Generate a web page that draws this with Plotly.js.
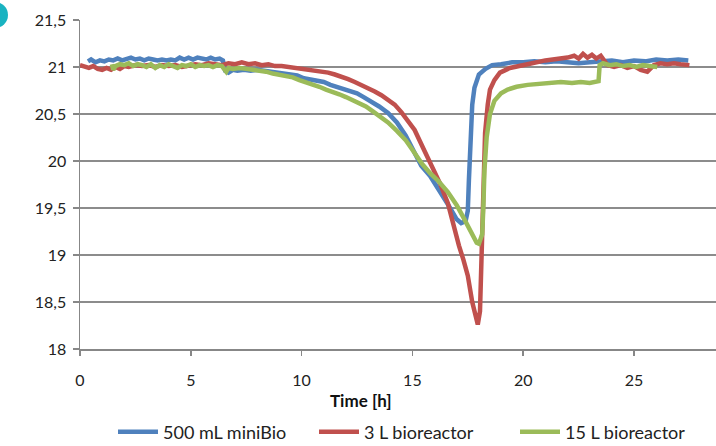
<!DOCTYPE html>
<html>
<head>
<meta charset="utf-8">
<script src="https://cdn.plot.ly/plotly-3.0.1.min.js"></script>
<style>html,body{margin:0;padding:0;background:#fff}#chart{width:716px;height:446px}</style>
</head>
<body>
<div id="chart"></div>
<script>
const seriesNames = ["500 mL miniBio", "3 L bioreactor", "15 L bioreactor"];
const xAxisTitle = "Time [h]";
const yTickVals = [18, 18.5, 19, 19.5, 20, 20.5, 21, 21.5];
const xTickVals = [0, 5, 10, 15, 20, 25];

const blueTime = [0.36,0.5,0.7,0.9,1.1,1.3,1.5,1.7,1.9,2.1,2.3,2.5,2.7,2.9,3.1,3.3,3.5,3.7,3.9,4.1,4.3,4.5,4.7,4.9,5.1,5.3,5.5,5.7,5.9,6.1,6.3,6.45,6.55,6.7,6.9,7.1,7.4,7.7,8.0,8.3,8.6,8.9,9.2,9.5,9.8,10.1,10.4,10.7,11.0,11.3,11.6,11.9,12.2,12.5,12.8,13.1,13.5,13.9,14.3,14.7,15.0,15.4,15.8,16.2,16.6,17.0,17.2,17.4,17.5,17.55,17.6,17.7,17.8,18.0,18.3,18.6,19.0,19.5,20.0,20.5,21.0,21.5,22.0,22.5,23.0,23.5,24.0,24.5,25.0,25.5,26.0,26.5,27.0,27.45];
const blueO2 = [21.06,21.08,21.05,21.07,21.06,21.08,21.07,21.09,21.07,21.08,21.1,21.08,21.09,21.07,21.09,21.08,21.07,21.08,21.07,21.08,21.07,21.1,21.08,21.1,21.08,21.1,21.09,21.08,21.1,21.08,21.09,21.07,20.96,20.94,20.97,20.96,20.97,20.96,20.97,20.96,20.96,20.94,20.93,20.92,20.91,20.88,20.87,20.85,20.84,20.81,20.79,20.77,20.74,20.72,20.68,20.64,20.58,20.51,20.41,20.27,20.13,19.95,19.84,19.7,19.54,19.38,19.34,19.36,19.47,19.8,20.2,20.6,20.78,20.92,20.98,21.02,21.03,21.05,21.05,21.06,21.05,21.06,21.05,21.04,21.05,21.06,21.07,21.05,21.07,21.06,21.08,21.07,21.08,21.07];

const redTime = [0,0.2,0.4,0.6,0.8,1.0,1.2,1.4,1.6,1.8,2.0,2.2,2.5,2.8,3.1,3.4,3.7,4.0,4.3,4.6,4.9,5.2,5.5,5.8,6.1,6.4,6.7,7.0,7.3,7.6,7.9,8.2,8.5,8.8,9.1,9.4,9.7,10.0,10.3,10.6,10.9,11.2,11.5,11.8,12.1,12.4,12.7,13.0,13.3,13.6,13.9,14.2,14.5,14.8,15.1,15.5,15.9,16.25,16.6,16.85,17.1,17.3,17.5,17.7,17.85,17.95,18.05,18.1,18.15,18.2,18.28,18.4,18.5,18.7,18.95,19.4,19.9,20.4,21.0,21.5,22.0,22.3,22.5,22.7,22.9,23.1,23.3,23.5,23.6,23.8,24.1,24.4,24.7,25.0,25.3,25.6,25.9,26.2,26.5,26.8,27.1,27.5];
const redO2 = [21.02,21.0,20.99,21.01,20.98,20.97,20.99,20.97,21.0,20.98,21.01,21.0,21.02,21.01,21.02,21.0,21.02,21.01,21.02,21.0,21.02,21.03,21.02,21.04,21.03,21.02,21.04,21.03,21.05,21.03,21.04,21.02,21.03,21.01,21.01,21.0,20.99,20.99,20.98,20.97,20.96,20.94,20.92,20.9,20.87,20.84,20.81,20.78,20.74,20.7,20.65,20.6,20.52,20.43,20.33,20.13,19.93,19.76,19.55,19.3,19.1,18.95,18.78,18.5,18.33,18.26,18.4,18.8,19.2,19.8,20.3,20.6,20.76,20.86,20.94,20.99,21.02,21.04,21.07,21.08,21.1,21.12,21.09,21.14,21.1,21.13,21.09,21.12,21.08,21.02,21.0,21.02,20.99,21.01,20.97,20.95,21.02,21.04,21.03,21.04,21.03,21.02];

const greenTime = [1.44,1.5,1.6,1.8,2.0,2.2,2.4,2.6,2.8,3.0,3.2,3.4,3.6,3.8,4.0,4.2,4.4,4.6,4.8,5.0,5.2,5.4,5.6,5.8,6.0,6.2,6.4,6.6,6.7,6.9,7.2,7.5,7.8,8.1,8.4,8.7,9.0,9.3,9.6,9.9,10.2,10.5,10.8,11.1,11.4,11.7,12.0,12.3,12.6,12.9,13.2,13.5,13.9,14.3,14.7,15.0,15.4,15.8,16.2,16.6,17.0,17.3,17.6,17.9,18.0,18.15,18.2,18.25,18.35,18.5,18.7,19.0,19.3,19.7,20.2,20.7,21.2,21.7,22.2,22.6,23.0,23.3,23.4,23.45,23.6,23.9,24.2,24.5,24.8,25.1,25.4,25.7,26.05];
const greenO2 = [21.03,20.97,21.01,21.03,21.02,21.04,21.01,21.03,21.02,21.0,21.03,20.99,21.02,21.0,21.03,21.01,20.99,21.02,21.01,21.03,21.0,21.02,21.01,21.02,21.0,21.02,21.01,20.95,20.99,20.98,20.99,20.98,20.97,20.97,20.95,20.93,20.92,20.9,20.89,20.86,20.84,20.82,20.79,20.76,20.74,20.71,20.68,20.65,20.62,20.58,20.53,20.48,20.41,20.32,20.22,20.12,19.98,19.87,19.78,19.67,19.53,19.4,19.27,19.13,19.12,19.22,19.5,19.9,20.25,20.5,20.64,20.72,20.76,20.79,20.81,20.82,20.83,20.84,20.83,20.84,20.83,20.84,20.85,21.02,21.04,21.02,21.03,21.01,21.02,21.0,21.02,21.01,21.0];

const colors = ["#4f81bd", "#c0504d", "#9bbb59"];
const font = "Lato, 'Open Sans', 'Liberation Sans', sans-serif";

const xs = [blueTime, redTime, greenTime];
const ys = [blueO2, redO2, greenO2];
const traces = seriesNames.map((n, i) => ({
  type: "scatter", mode: "lines", name: n,
  x: xs[i], y: ys[i],
  line: {color: colors[i], width: 4.5}
}));

const layout = {
  width: 716, height: 446,
  margin: {l: 80, r: 0, t: 20, b: 97, autoexpand: false},
  paper_bgcolor: "#fff", plot_bgcolor: "#fff",
  separators: ", ",
  showlegend: true,
  font: {family: font, size: 16, color: "#222"},
  xaxis: {
    range: [0, 28.7], tickvals: xTickVals, showgrid: false, zeroline: false,
    showline: true, linecolor: "#878787", linewidth: 1.5,
    ticks: "outside", ticklen: 5, tickcolor: "#878787", tickwidth: 1.5,
    ticklabelstandoff: 11,
    tickfont: {size: 16, color: "#222"}
  },
  yaxis: {
    range: [18, 21.5], tickvals: yTickVals, showgrid: true, gridcolor: "#8c8c8c", gridwidth: 1.5,
    zeroline: false, showline: true, linecolor: "#878787", linewidth: 1.5,
    ticks: "outside", ticklen: 6, tickcolor: "#878787", tickwidth: 1.5,
    ticklabelstandoff: 3,
    tickfont: {size: 16, color: "#222"}
  },
  legend: {orientation: "h", xref: "container", x: 113 / 716, xanchor: "left",
           yref: "container", y: 1 - 432 / 446, yanchor: "middle",
           font: {size: 18, color: "#222"}, itemwidth: 40, tracegroupgap: 0,
           entrywidth: 146, entrywidthmode: "pixels"},
  annotations: [{text: "<b>" + xAxisTitle + "</b>", xref: "paper", yref: "paper",
                 x: (361 - 80) / 636, y: (349 - 401) / 329, xanchor: "center", yanchor: "middle",
                 showarrow: false, font: {size: 17, color: "#111"}}],
  shapes: [{type: "circle", xref: "paper", yref: "paper",
            x0: (-18 - 80) / 636, x1: (8 - 80) / 636,
            y0: (349 - 28) / 329, y1: (349 - 2) / 329,
            fillcolor: "#19b3c1", line: {width: 0}}]
};

Plotly.newPlot("chart", traces, layout, {displayModeBar: false, staticPlot: true});
</script>
</body>
</html>
